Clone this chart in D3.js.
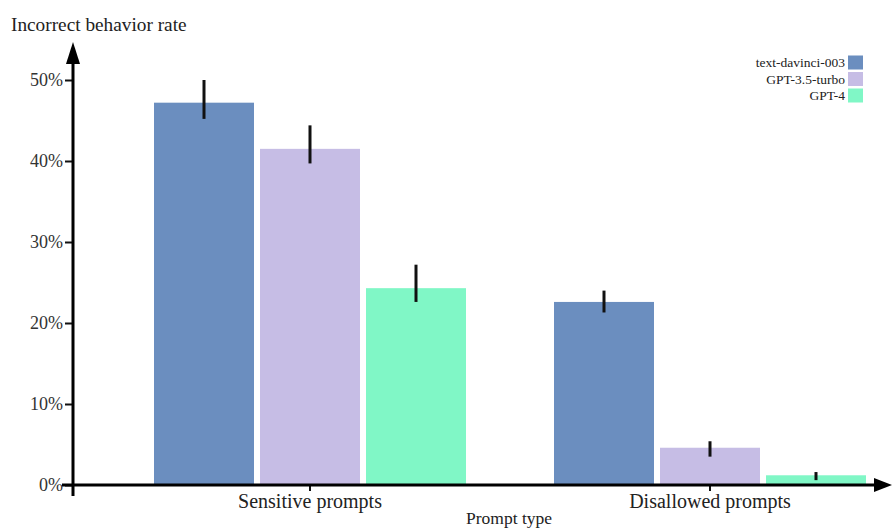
<!DOCTYPE html>
<html>
<head>
<meta charset="utf-8">
<script src="https://cdn.jsdelivr.net/npm/d3@7"></script>
<style>
  body { margin: 0; background: #fff; }
  text { font-family: "Liberation Serif", "DejaVu Serif", serif; fill: #222; }
</style>
</head>
<body>
<div id="graph"></div>
<script>
'use strict';

// values (percent)
const categories = ['Sensitive prompts', 'Disallowed prompts'];
const models = ['text-davinci-003', 'GPT-3.5-turbo', 'GPT-4'];
const rates = [
    [47.2, 41.5, 24.3],
    [22.6, 4.6, 1.2]
];
const errLow = [
    [45.2, 39.7, 22.6],
    [21.3, 3.5, 0.6]
];
const errHigh = [
    [50.0, 44.4, 27.2],
    [24.0, 5.4, 1.6]
];
const yTicks = [0, 10, 20, 30, 40, 50];
const colors = ['#6b8ebf', '#c6bde5', '#80f7c6'];

const measurements = {
    width: 892,
    height: 529,
    left: 73,
    top: 80,
    bottom: 485
};

let svg = d3.select('#graph')
    .append('svg')
    .attr('width', measurements.width)
    .attr('height', measurements.height);

// scales
let xScale = d3.scaleBand()
    .domain(categories)
    .range([110, 910]);

let yScale = d3.scaleLinear()
    .domain([0, 50])
    .range([measurements.bottom, measurements.top]);

const barW = 100, barGap = 6;
function barX(ci, mi) {
    let center = xScale(categories[ci]) + xScale.bandwidth() / 2;
    return center - 1.5 * barW - barGap + mi * (barW + barGap);
}

// flatten into rows for drawing
let rows = [];
categories.forEach((c, ci) => {
    models.forEach((m, mi) => {
        rows.push({ ci: ci, mi: mi, v: rates[ci][mi], lo: errLow[ci][mi], hi: errHigh[ci][mi] });
    });
});

// bars
svg.selectAll('.bar')
    .data(rows)
    .enter()
    .append('rect')
    .attr('class', 'bar')
    .attr('x', d => barX(d.ci, d.mi))
    .attr('y', d => yScale(d.v))
    .attr('width', barW)
    .attr('height', d => yScale(0) - yScale(d.v))
    .style('fill', d => colors[d.mi]);

// error bars
svg.selectAll('.err')
    .data(rows)
    .enter()
    .append('line')
    .attr('class', 'err')
    .attr('x1', d => barX(d.ci, d.mi) + barW / 2)
    .attr('x2', d => barX(d.ci, d.mi) + barW / 2)
    .attr('y1', d => yScale(d.hi))
    .attr('y2', d => yScale(d.lo))
    .style('stroke', '#111')
    .style('stroke-width', 3);

// y axis
let yAxis = d3.axisLeft(yScale)
    .tickValues(yTicks)
    .tickSize(8)
    .tickFormat(d => d + '%');
let yG = svg.append('g')
    .attr('transform', 'translate(' + measurements.left + ', 0)')
    .call(yAxis);
yG.select('.domain').remove();
yG.selectAll('.tick line').style('stroke', '#111').style('stroke-width', 2).attr('x1', 0).attr('x2', -8);
yG.selectAll('.tick text').attr('x', -10).style('font-size', '18px').style('fill', '#333')
    .style('font-family', '"Liberation Serif", serif');

svg.append('line')
    .attr('x1', measurements.left).attr('x2', measurements.left)
    .attr('y1', 60).attr('y2', measurements.bottom + 11)
    .style('stroke', '#000').style('stroke-width', 3);
svg.append('path')
    .attr('d', 'M' + measurements.left + ',42 L' + (measurements.left - 7) + ',64 L' + (measurements.left + 7) + ',64 Z')
    .style('fill', '#000');

// x axis
let xAxis = d3.axisBottom(xScale).tickSize(6);
let xG = svg.append('g')
    .attr('transform', 'translate(0, ' + measurements.bottom + ')')
    .call(xAxis);
xG.select('.domain').remove();
xG.selectAll('.tick line').style('stroke', '#111').style('stroke-width', 2);
xG.selectAll('.tick text').attr('y', 9).style('font-size', '20px').style('fill', '#222')
    .style('font-family', '"Liberation Serif", serif');

svg.append('line')
    .attr('x1', 62).attr('x2', 878)
    .attr('y1', measurements.bottom).attr('y2', measurements.bottom)
    .style('stroke', '#000').style('stroke-width', 3);
svg.append('path')
    .attr('d', 'M892,' + measurements.bottom + ' L874,' + (measurements.bottom - 7) + ' L874,' + (measurements.bottom + 7) + ' Z')
    .style('fill', '#000');

// labels
svg.append('text')
    .attr('x', 11).attr('y', 31)
    .style('font-size', '19.3px')
    .text('Incorrect behavior rate');

svg.append('text')
    .attr('x', 509).attr('y', 524)
    .attr('text-anchor', 'middle')
    .style('font-size', '17.5px')
    .text('Prompt type');

// legend
let legend = svg.selectAll('.legend')
    .data(models)
    .enter()
    .append('g')
    .attr('class', 'legend')
    .attr('transform', (d, i) => 'translate(0, ' + (62.5 + i * 16.5) + ')');
legend.append('rect')
    .attr('x', 848).attr('y', -7)
    .attr('width', 15).attr('height', 14)
    .style('fill', (d, i) => colors[i]);
legend.append('text')
    .attr('x', 845).attr('y', 4.5)
    .attr('text-anchor', 'end')
    .style('font-size', '13.5px')
    .text(d => d);
</script>
</body>
</html>
